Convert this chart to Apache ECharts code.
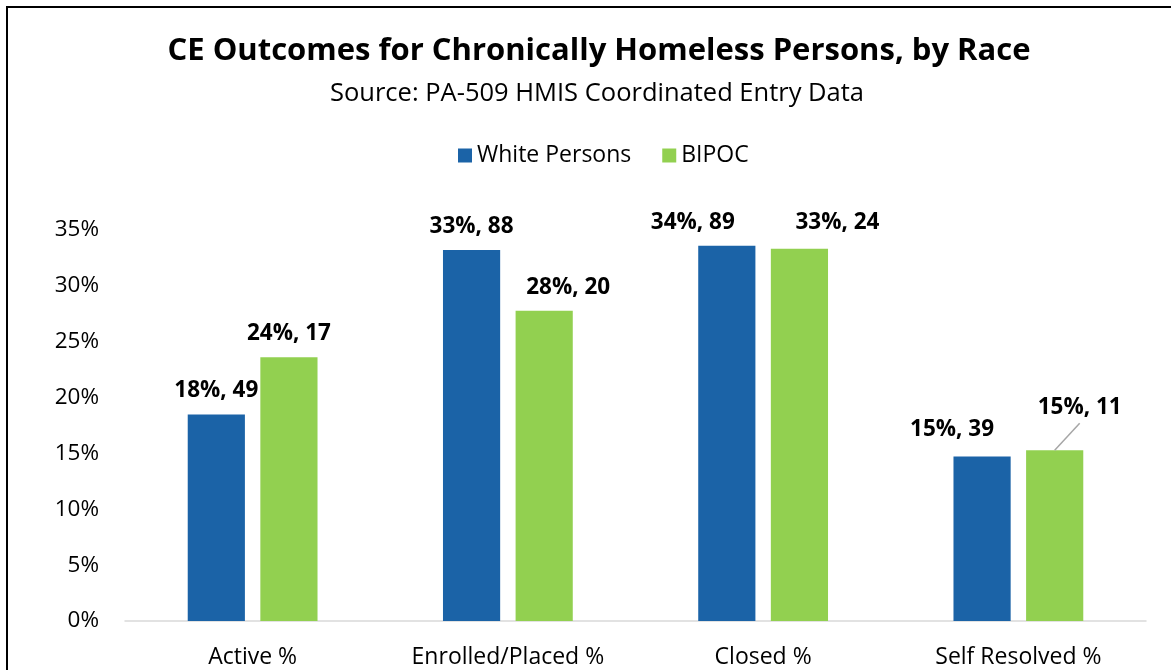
<!DOCTYPE html>
<html>
<head>
<meta charset="utf-8">
<script src="https://cdn.jsdelivr.net/npm/echarts@6/dist/echarts.min.js"></script>
<style>
  html, body { margin: 0; padding: 0; background: #fff; }
  #chart { width: 1171px; height: 670px; }
</style>
</head>
<body>
<div id="chart"></div>
<script>
// Chart data
const categories = ['Active %', 'Enrolled/Placed %', 'Closed %', 'Self Resolved %'];
const whitePct = [18.49, 33.21, 33.58, 14.72];
const whiteCount = [49, 88, 89, 39];
const bipocPct = [23.61, 27.78, 33.33, 15.28];
const bipocCount = [17, 20, 24, 11];
const yTicks = { min: 0, max: 35, interval: 5 };

const FONT = 'Open Sans';
const BAR_WIDTH = 0.224;   // fraction of a category band
const BAR_GAP = 0.27;      // fraction of a bar width

const chart = echarts.init(document.getElementById('chart'), null, { renderer: 'canvas' });

function labelFor(counts) {
  return function (p) {
    return Math.round(p.value) + '%, ' + counts[p.dataIndex];
  };
}

// Hand-placed label nudges (pixels), so neighbouring labels stay apart
function nudge(offsets) {
  return function (p) {
    const o = offsets[p.dataIndex] || [0, 0];
    return { dx: o[0], dy: o[1] };
  };
}

const labelStyle = {
  show: true,
  position: 'top',
  distance: 12,
  fontFamily: FONT,
  fontWeight: 'bold',
  fontSize: 22.5,
  color: '#000'
};

chart.setOption({
  backgroundColor: '#fff',
  animation: false,
  title: [
    {
      text: 'CE Outcomes for Chronically Homeless Persons, by Race',
      left: 594,
      top: 31,
      textAlign: 'center',
      textStyle: { fontFamily: FONT, fontWeight: 'bold', fontSize: 31, color: '#000' }
    },
    {
      text: 'Source: PA-509 HMIS Coordinated Entry Data',
      left: 592,
      top: 76,
      textAlign: 'center',
      textStyle: { fontFamily: FONT, fontWeight: 'normal', fontSize: 25.5, color: '#000' }
    }
  ],
  legend: {
    top: 139,
    left: 453,
    icon: 'rect',
    itemWidth: 14,
    itemHeight: 14,
    itemGap: 31,
    textStyle: { fontFamily: FONT, fontSize: 23, color: '#000' },
    data: ['White Persons', 'BIPOC']
  },
  grid: { left: 125, right: 25, top: 230, bottom: 49, containLabel: false },
  xAxis: {
    type: 'category',
    data: categories,
    axisLine: { lineStyle: { color: '#d9d9d9', width: 1.5 } },
    axisTick: { show: false },
    axisLabel: { fontFamily: FONT, fontSize: 23, color: '#000', margin: 25 }
  },
  yAxis: {
    type: 'value',
    min: yTicks.min,
    max: yTicks.max,
    interval: yTicks.interval,
    axisLine: { show: false },
    axisTick: { show: false },
    splitLine: { show: false },
    axisLabel: { fontFamily: FONT, fontSize: 22.5, color: '#000', margin: 26, formatter: '{value}%' }
  },
  graphic: [
    {
      type: 'rect',
      shape: { x: 7, y: 7, width: 1300, height: 800 },
      style: { fill: 'none', stroke: '#000', lineWidth: 2 },
      silent: true
    }
  ],
  series: [
    {
      name: 'White Persons',
      type: 'bar',
      data: whitePct,
      barWidth: (BAR_WIDTH * 100) + '%',
      barGap: (BAR_GAP * 100) + '%',
      itemStyle: { color: '#1B63A7' },
      label: Object.assign({}, labelStyle, { formatter: labelFor(whiteCount) }),
      labelLayout: nudge([[0, 0], [0, 0], [-34, 0], [-30, -3]])
    },
    {
      name: 'BIPOC',
      type: 'bar',
      data: bipocPct,
      barWidth: (BAR_WIDTH * 100) + '%',
      itemStyle: { color: '#92D050' },
      label: Object.assign({}, labelStyle, { formatter: labelFor(bipocCount) }),
      labelLayout: nudge([[0, 0], [24, 0], [38, -3], [25, -19]])
    },
    {
      // leader line from the top of the last BIPOC bar to its lifted label
      name: 'leader',
      type: 'custom',
      silent: true,
      z: 5,
      data: [[3, bipocPct[3]]],
      renderItem: function (params, api) {
        const pt = api.coord([api.value(0), api.value(1)]);
        const band = api.size([1, 0])[0];
        const bw = band * BAR_WIDTH;
        const x = pt[0] + (bw + bw * BAR_GAP) / 2;
        return {
          type: 'line',
          shape: { x1: x, y1: pt[1], x2: x + 25, y2: pt[1] - 27 },
          style: { stroke: '#a6a6a6', lineWidth: 1.5 }
        };
      }
    }
  ]
});
</script>
</body>
</html>
